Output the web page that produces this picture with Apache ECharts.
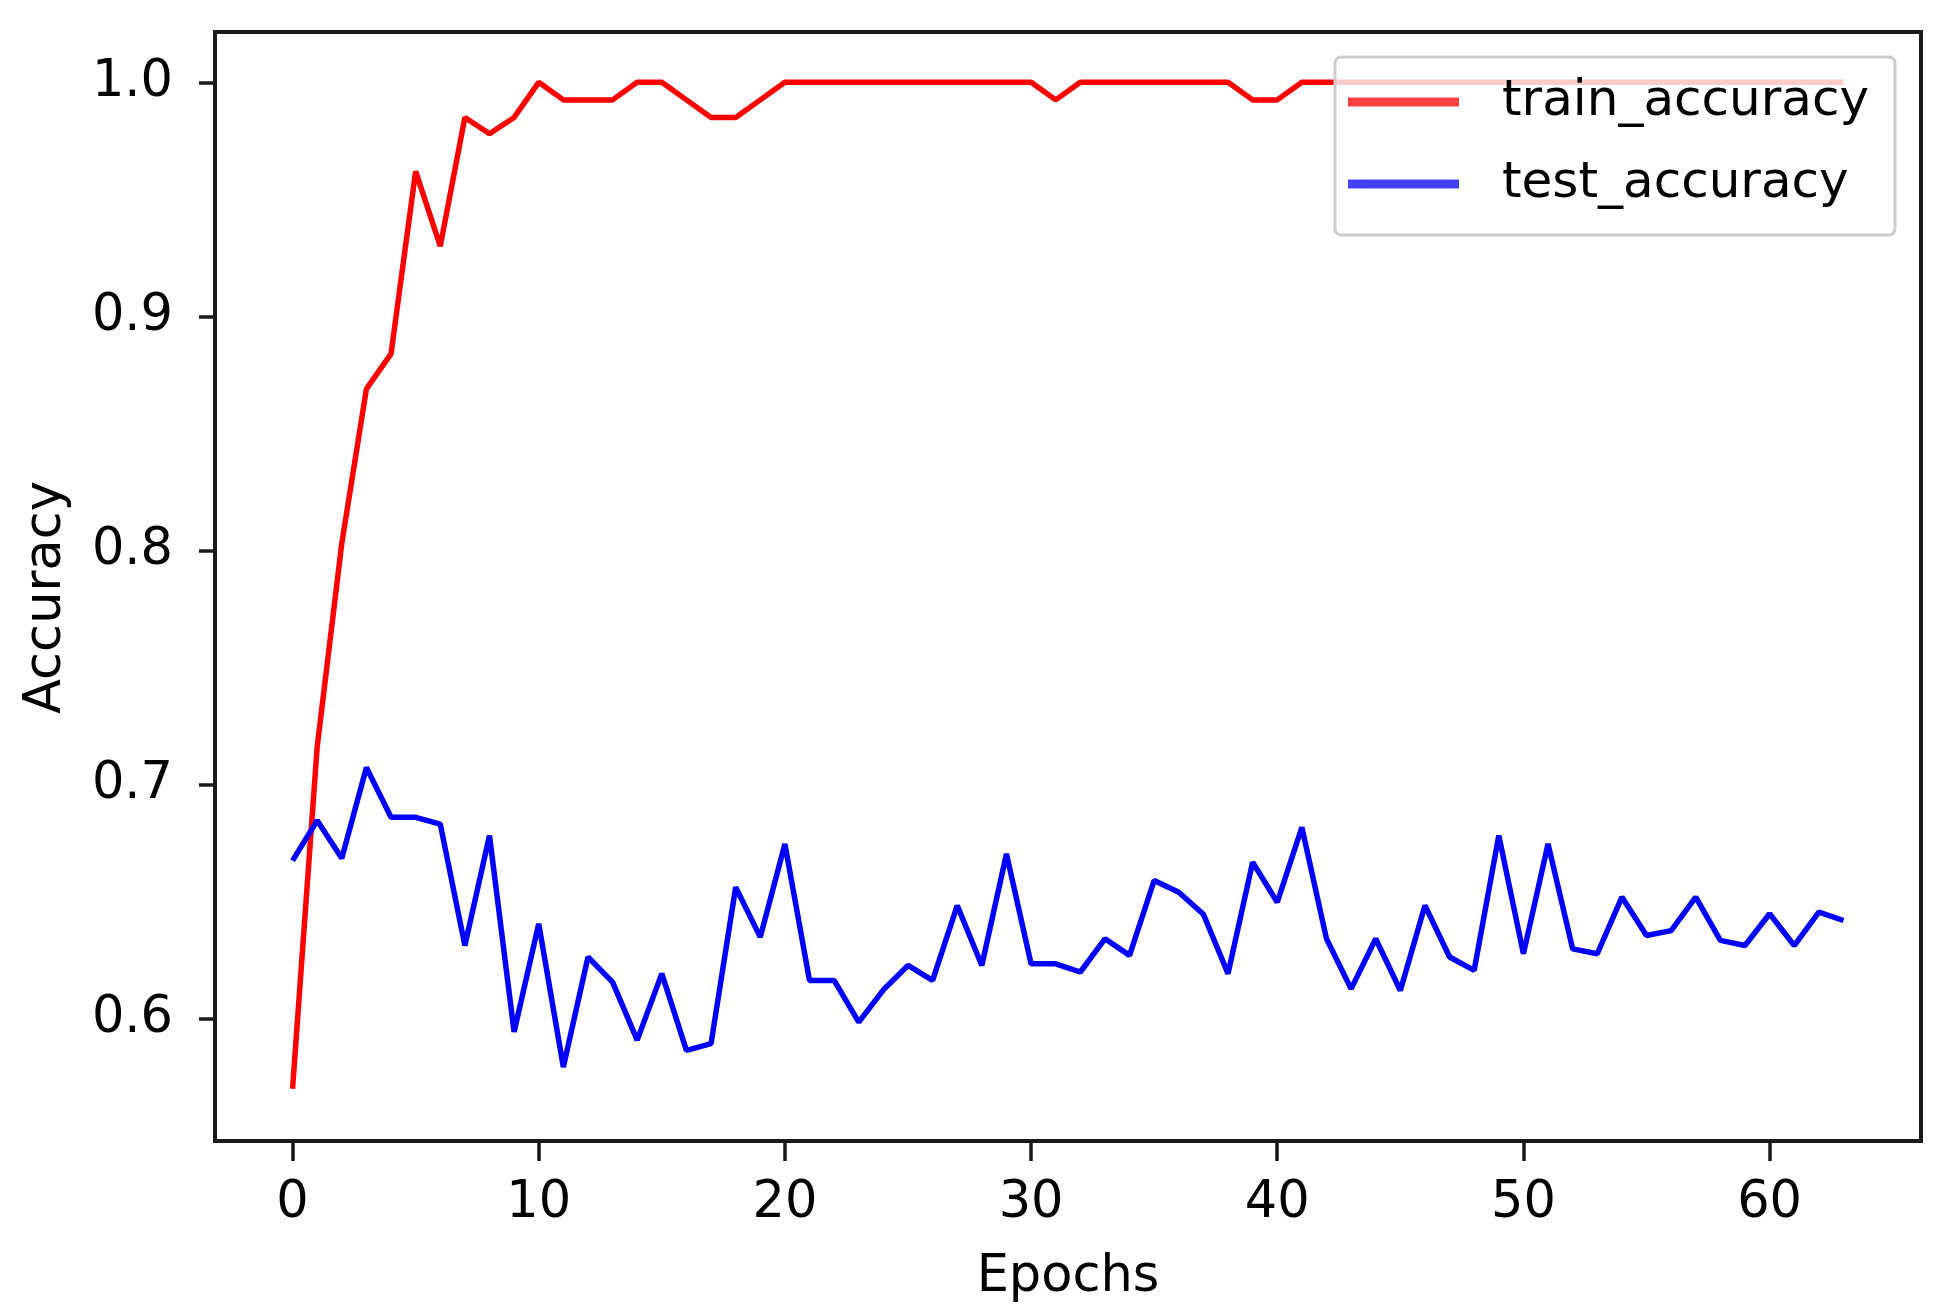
<!DOCTYPE html>
<html>
<head>
<meta charset="utf-8">
<script src="https://cdn.jsdelivr.net/npm/echarts@6/dist/echarts.min.js"></script>
<style>
  body { margin: 0; background: #fff; }
  #main { width: 1949px; height: 1314px; }
</style>
</head>
<body>
<div id="main"></div>
<script>
// values, one per epoch (0..63)
var epochs = []
for (var e = 0; e < 64; e++) epochs.push(e)

var trainAcc = [
  0.570, 0.716, 0.803, 0.869, 0.884, 0.962, 0.930, 0.985, 0.978, 0.985,
  1.000, 0.9925, 0.9925, 0.9925, 1.000, 1.000, 0.9925, 0.985, 0.985, 0.9925,
  1.000, 1.000, 1.000, 1.000, 1.000, 1.000, 1.000, 1.000, 1.000, 1.000,
  1.000, 0.9925, 1.000, 1.000, 1.000, 1.000, 1.000, 1.000, 1.000, 0.9925,
  0.9925, 1.000, 1.000, 1.000, 1.000, 1.000, 1.000, 1.000, 1.000, 1.000,
  1.000, 1.000, 1.000, 1.000, 1.000, 1.000, 1.000, 1.000, 1.000, 1.000,
  1.000, 1.000, 1.000, 1.000
]

var testAcc = [
  0.6675, 0.6846, 0.6685, 0.7073, 0.686, 0.686, 0.6831, 0.6312, 0.6782, 0.5943,
  0.6405, 0.5793, 0.6263, 0.6156, 0.5908, 0.6192, 0.5864, 0.5893, 0.6561, 0.6348,
  0.6746, 0.6163, 0.6163, 0.5985, 0.6123, 0.6227, 0.6163, 0.6483, 0.6227, 0.6704,
  0.6234, 0.6234, 0.6199, 0.6341, 0.627, 0.659, 0.654, 0.6446, 0.6192, 0.6668,
  0.6497, 0.6817, 0.6341, 0.6127, 0.6341, 0.612, 0.6483, 0.6263, 0.6206, 0.6782,
  0.6277, 0.6746, 0.6298, 0.6277, 0.6519, 0.6355, 0.6376, 0.6519, 0.6334, 0.6312,
  0.6448, 0.6312, 0.6455, 0.6419
]

var xTicks = [0, 10, 20, 30, 40, 50, 60]
var yTicks = [0.6, 0.7, 0.8, 0.9, 1.0]

// matplotlib-style 5% margins around the data
var xMin = -3.15, xMax = 66.15
var yMin = 0.5477, yMax = 1.0215

var chart = echarts.init(document.getElementById('main'))
var font = 'DejaVu Sans'
var ink = '#1a1a1a'

function pairs (vals) {
  var out = []
  for (var i = 0; i < epochs.length; i++) out.push([epochs[i], vals[i]])
  return out
}

var option = {
  animation: false,
  grid: {
    left: 215,
    top: 32,
    width: 1706,
    height: 1109,
    show: true,
    borderColor: ink,
    borderWidth: 4
  },
  legend: {
    orient: 'vertical',
    left: 1335,
    top: 57,
    padding: [20, 26, 26, 13],
    itemWidth: 111,
    itemHeight: 9,
    itemGap: 32,
    icon: 'rect',
    borderColor: '#cccccc',
    borderWidth: 3,
    borderRadius: 6,
    backgroundColor: 'rgba(255,255,255,0.8)',
    textStyle: {
      fontFamily: font,
      fontSize: 50,
      color: '#000',
      padding: [10, 0, 0, 38]
    },
    data: [
      {name: 'train_accuracy', itemStyle: {color: '#ff4040'}},
      {name: 'test_accuracy', itemStyle: {color: '#4040ff'}}
    ]
  },
  xAxis: {
    type: 'value',
    min: xMin,
    max: xMax,
    name: 'Epochs',
    nameLocation: 'middle',
    nameGap: 111,
    nameTextStyle: {fontFamily: font, fontSize: 51, color: '#000'},
    axisLine: {show: true, onZero: false, lineStyle: {color: ink, width: 4}},
    splitLine: {show: false},
    axisTick: {
      show: true,
      length: 20,
      customValues: xTicks,
      lineStyle: {color: ink, width: 3.5}
    },
    axisLabel: {
      customValues: xTicks,
      margin: 37,
      fontFamily: font,
      fontSize: 51,
      color: '#000'
    }
  },
  yAxis: {
    type: 'value',
    min: yMin,
    max: yMax,
    name: 'Accuracy',
    nameLocation: 'middle',
    nameGap: 143,
    nameTextStyle: {fontFamily: font, fontSize: 51, color: '#000', padding: [0, 22, 0, 0]},
    axisLine: {show: true, onZero: false, lineStyle: {color: ink, width: 4}},
    splitLine: {show: false},
    axisTick: {
      show: true,
      length: 16,
      customValues: yTicks,
      lineStyle: {color: ink, width: 3.5}
    },
    axisLabel: {
      customValues: yTicks,
      margin: 42,
      fontFamily: font,
      fontSize: 51,
      color: '#000',
      formatter: function (v) { return v.toFixed(1) }
    }
  },
  series: [
    {
      name: 'train_accuracy',
      type: 'line',
      symbol: 'none',
      color: '#ff0000',
      lineStyle: {width: 5.5, color: '#ff0000'},
      data: pairs(trainAcc)
    },
    {
      name: 'test_accuracy',
      type: 'line',
      symbol: 'none',
      color: '#0000ff',
      lineStyle: {width: 5.5, color: '#0000ff'},
      data: pairs(testAcc)
    }
  ]
}

chart.setOption(option)
</script>
</body>
</html>
